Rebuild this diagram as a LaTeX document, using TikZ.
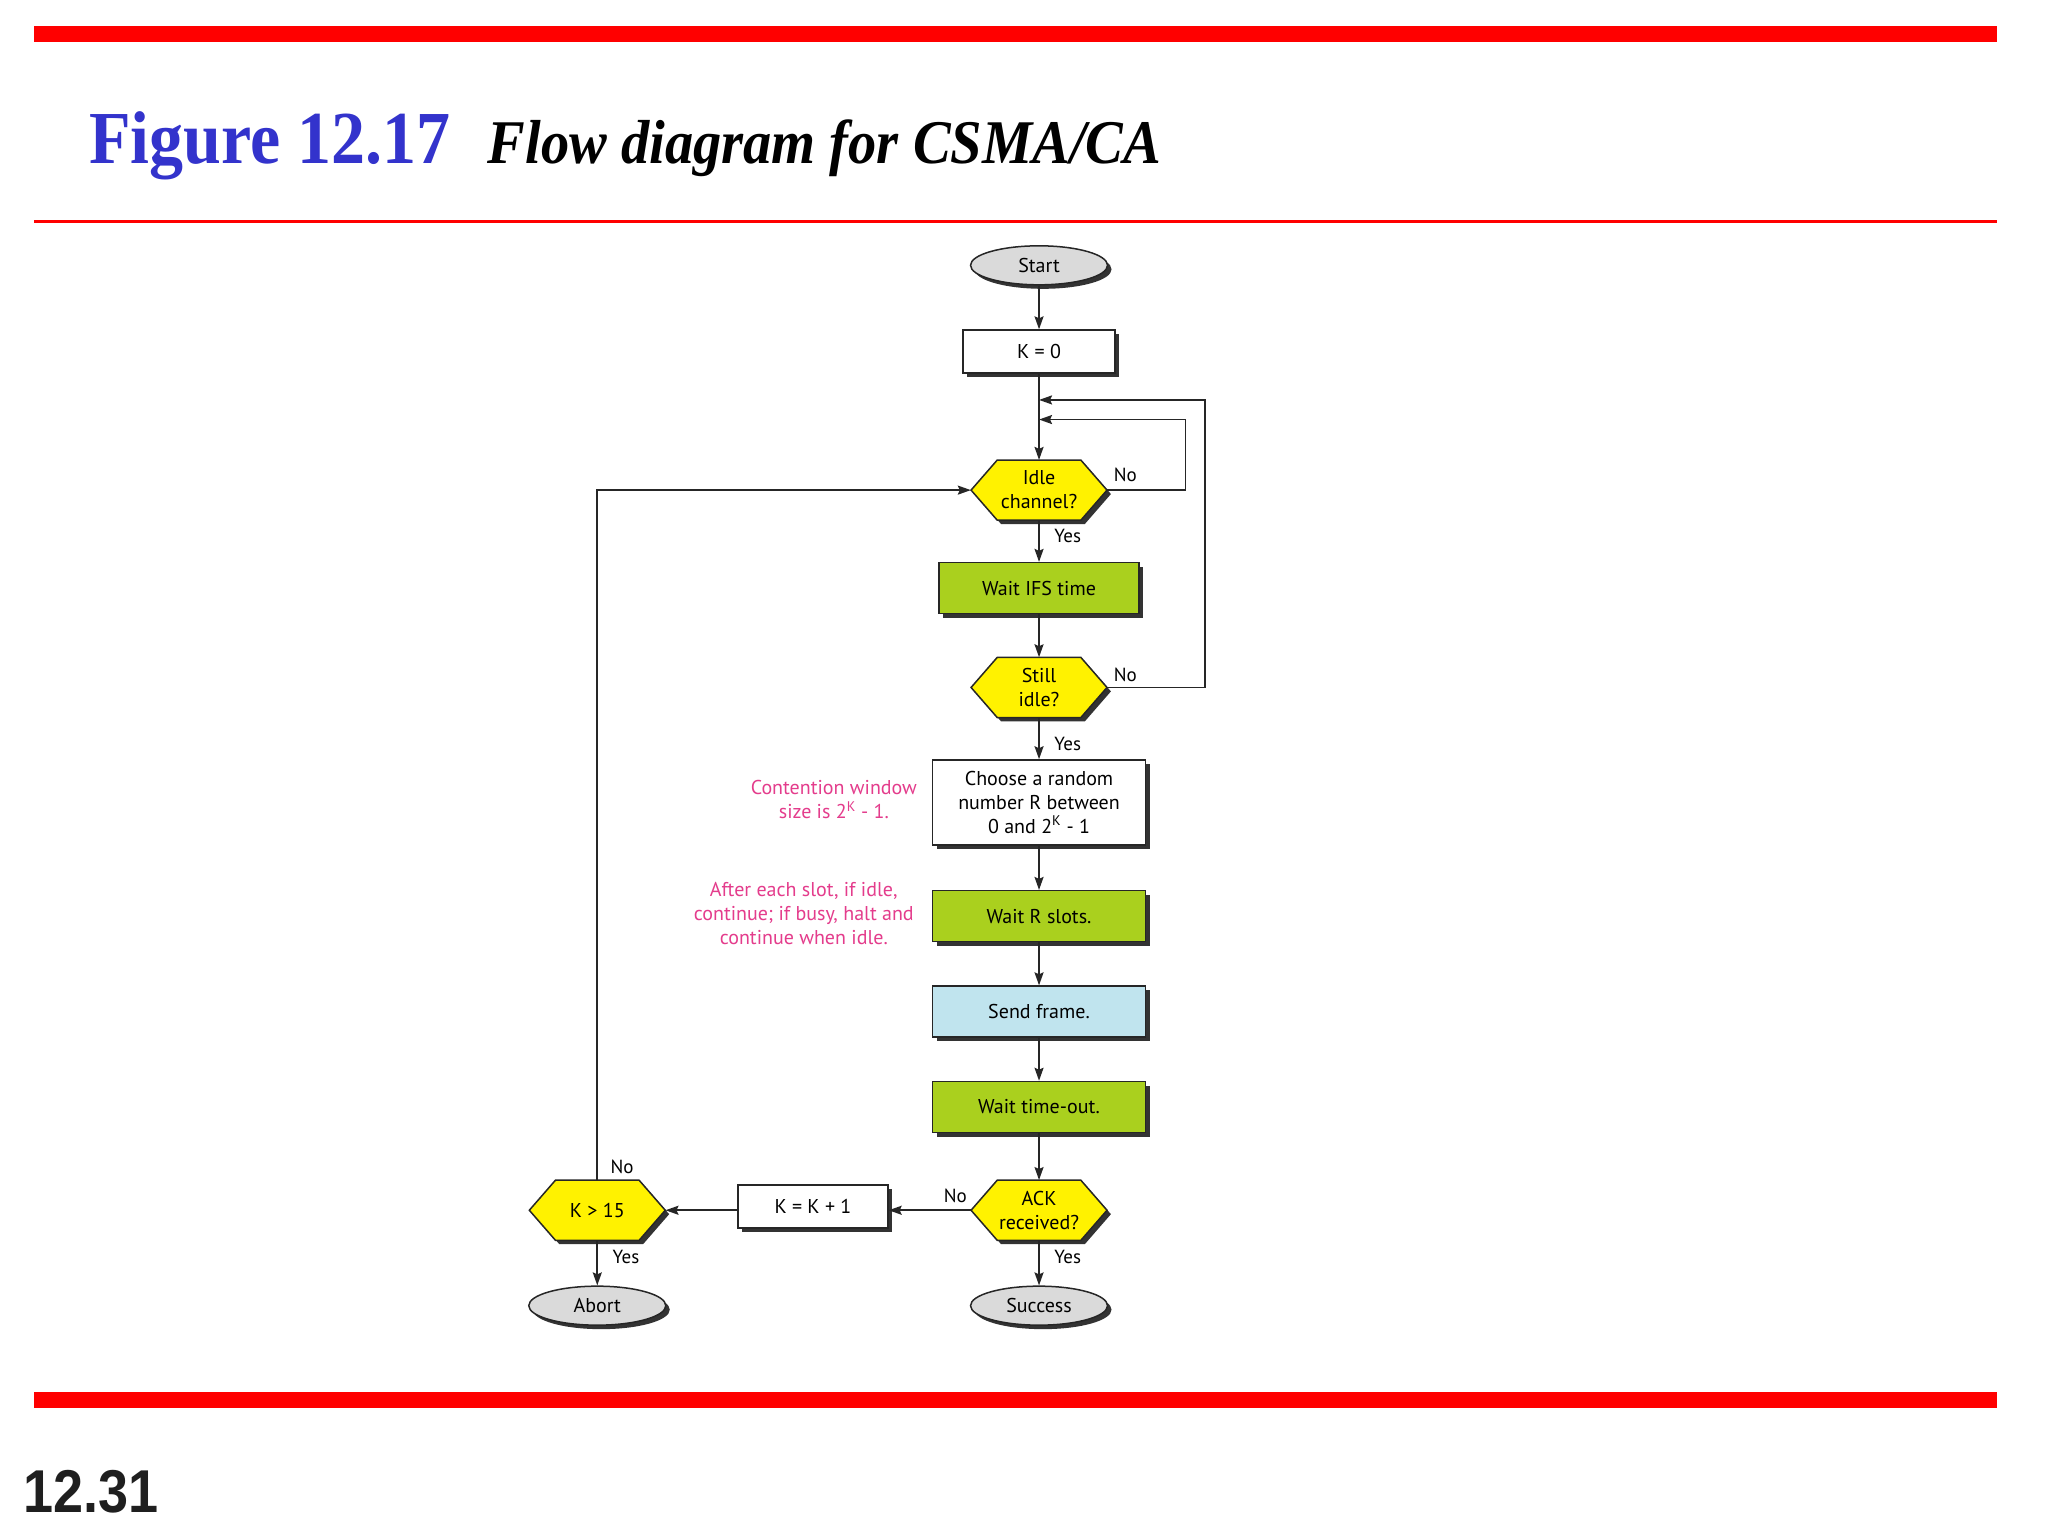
\documentclass[tikz,border=0pt]{standalone}
\usepackage{fontspec}
\setmainfont{Liberation Serif}
\newfontfamily\flowfont{PT Sans}
\newfontfamily\arialfont{Liberation Sans}
\usetikzlibrary{arrows.meta,shapes.geometric,shadows}
\definecolor{flowgreen}{RGB}{170,208,30}
\definecolor{flowyellow}{RGB}{255,242,0}
\definecolor{flowblue}{RGB}{192,228,238}
\definecolor{termgray}{RGB}{218,218,218}
\definecolor{notepink}{RGB}{228,60,140}
\definecolor{titleblue}{RGB}{51,51,204}
\definecolor{barred}{RGB}{255,0,0}
\tikzset{
  conn/.style={line width=1.8pt, draw=black!85, -{Stealth[length=13pt,width=9pt,inset=2pt]}},
  plain/.style={line width=1.8pt, draw=black!85},
  shad/.style={drop shadow={shadow xshift=4pt,shadow yshift=-4pt,fill=black!80,opacity=1}},
  box/.style={rectangle, draw=black!85, line width=1.5pt, shad, align=center, inner sep=2pt,
    font=\flowfont\fontsize{20}{24}\selectfont},
  whitebox/.style={box, fill=white},
  greenbox/.style={box, fill=flowgreen},
  bluebox/.style={box, fill=flowblue},
  term/.style={ellipse, draw=black!85, line width=1.5pt, fill=termgray, shad, inner sep=0pt,
    minimum width=137pt, minimum height=39pt, font=\flowfont\fontsize{20}{24}\selectfont},
  hextext/.style={rectangle, minimum width=136pt, minimum height=60pt, inner sep=0pt, align=center,
    font=\flowfont\fontsize{20}{24}\selectfont},
  hexfill/.style={fill=flowyellow, draw=black!85, line width=1.5pt, line join=miter},
  hexshadow/.style={fill=black!80},
  lbl/.style={font=\flowfont\fontsize{19}{22}\selectfont, inner sep=0pt},
  note/.style={font=\flowfont\fontsize{20}{24}\selectfont, text=notepink, align=center, inner sep=0pt},
}
\newcommand\hexagonnode[4]{%
  \fill[hexshadow] (#2+3,#3+3) ++(-52,0) -- ++(20,-23) -- ++(64,0) -- ++(20,23) -- ++(-20,23) -- ++(-64,0) -- cycle;
  \filldraw[hexfill] (#2,#3) ++(-52,0) -- ++(20,-23) -- ++(64,0) -- ++(20,23) -- ++(-20,23) -- ++(-64,0) -- cycle;
  \node[hextext] (#1) at (#2,#3) {#4};
}
\begin{document}
\begin{tikzpicture}[x=1.307pt,y=-1.307pt]
\useasboundingbox (0,0) rectangle (1567,1175);
\fill[white] (0,0) rectangle (1567,1175);
% bars
\fill[barred] (26,20) rectangle (1528,32);
\fill[barred] (26,168.5) rectangle (1528,171);
\fill[barred] (26,1065) rectangle (1528,1077);
% title
\node[anchor=base west, inner sep=0pt, text=titleblue, yscale=1.1,
  font=\bfseries\fontsize{68}{70}\selectfont] (figno) at (68,125) {Figure 12.17};
\node[anchor=base west, inner sep=0pt, yscale=1.1,
  font=\bfseries\itshape\fontsize{56.5}{60}\selectfont] (figtitle) at (373,125) {Flow diagram for CSMA/CA};
\node[anchor=base west, inner sep=0pt, text=black!88, yscale=1.12,
  font=\arialfont\bfseries\fontsize{54}{56}\selectfont] (pageno) at (18,1157) {12.31};

% nodes
\node[term] (start) at (795,203) {Start};
\node[whitebox, minimum width=152pt, minimum height=43pt] (k0) at (795,269) {K = 0};
\hexagonnode{idle}{795}{375}{Idle\\channel?}
\node[greenbox, minimum width=200pt, minimum height=51pt] (ifs) at (795,450) {Wait IFS time};
\hexagonnode{still}{795}{526}{Still\\idle?}
\node[whitebox, minimum width=213pt, minimum height=85pt] (choose) at (795,614)
  {Choose a random\\number R between\\0 and 2\textsuperscript{K} - 1};
\node[greenbox, minimum width=213pt, minimum height=51pt] (waitr) at (795,701) {Wait R slots.};
\node[bluebox, minimum width=213pt, minimum height=51pt] (send) at (795,774) {Send frame.};
\node[greenbox, minimum width=213pt, minimum height=51pt] (timeout) at (795,847) {Wait time-out.};
\hexagonnode{ack}{795}{926}{ACK\\received?}
\node[whitebox, minimum width=150pt, minimum height=43pt] (kinc) at (622,923) {K = K + 1};
\hexagonnode{klim}{457}{926}{K > 15}
\node[term] (abort) at (457,999) {Abort};
\node[term] (success) at (795,999) {Success};

% notes
\node[note] (cw) at (638,612) {Contention window\\size is 2\textsuperscript{K} - 1.};
\node[note] (slot) at (615,699) {After each slot, if idle,\\continue; if busy, halt and\\continue when idle.};

% junction coordinates
\coordinate (jout) at (795,306);
\coordinate (jin) at (795,321);
\coordinate (rout) at (922,306);
\coordinate (rin) at (907,321);

% connectors
\draw[conn] (start) -- (k0);
\draw[conn] (k0) -- (idle.north);
\draw[conn] (idle.south) -- (ifs);
\draw[conn] (ifs) -- (still.north);
\draw[conn] (still.south) -- (choose);
\draw[conn] (choose) -- (waitr);
\draw[conn] (waitr) -- (send);
\draw[conn] (send) -- (timeout);
\draw[conn] (timeout) -- (ack.north);
\draw[conn] (ack.south) -- (success);
\draw[conn] (ack.west) -- (ack.west -| kinc.east);
\draw[conn] (kinc.west |- klim.east) -- (klim.east);
\draw[conn] (klim.south) -- (abort);
\draw[conn] (klim.north) |- (idle.west);
\draw[conn] (idle.east) -| (rin) -- (jin);
\draw[conn] (still.east) -| (rout) -- (jout);

% labels
\node[lbl] (l1) at (861,363) {No};
\node[lbl] (l2) at (817,410) {Yes};
\node[lbl] (l3) at (861,516) {No};
\node[lbl] (l4) at (817,569) {Yes};
\node[lbl] (l5) at (731,915) {No};
\node[lbl] (l6) at (817,962) {Yes};
\node[lbl] (l7) at (476,893) {No};
\node[lbl] (l8) at (479,962) {Yes};
\end{tikzpicture}
\end{document}
